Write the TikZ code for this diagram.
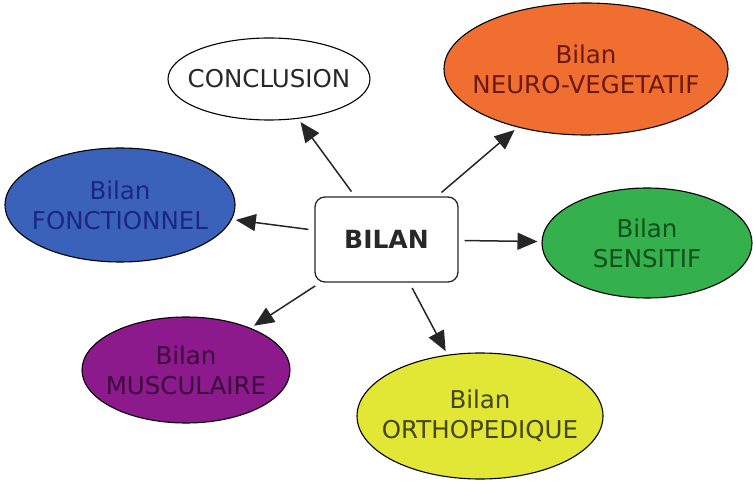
\documentclass[tikz,border=0pt]{standalone}
\usepackage{fontspec}
\setmainfont{DejaVu Sans}
\usetikzlibrary{shapes.geometric,arrows.meta}

\definecolor{blueFill}{RGB}{58,98,186}
\definecolor{blueText}{RGB}{28,38,128}
\definecolor{orangeFill}{RGB}{240,110,48}
\definecolor{orangeText}{RGB}{105,25,15}
\definecolor{greenFill}{RGB}{52,176,76}
\definecolor{greenText}{RGB}{18,78,30}
\definecolor{purpleFill}{RGB}{140,26,140}
\definecolor{purpleText}{RGB}{58,10,58}
\definecolor{yellowFill}{RGB}{226,230,52}
\definecolor{yellowText}{RGB}{68,68,20}
\definecolor{inkGrey}{RGB}{40,40,40}

\tikzset{
  bilanoval/.style={ellipse, draw=black, line width=1.1pt, inner sep=0pt},
  ovaltext/.style={align=center, inner sep=0pt, font=\fontsize{24.5}{30}\selectfont},
  centerbox/.style={draw=inkGrey, line width=1.3pt, rounded corners=10pt,
    minimum width=143pt, minimum height=85pt, fill=white,
    font=\fontsize{25}{30}\selectfont\bfseries, text=inkGrey},
  spoke/.style={-{Triangle[length=20pt,width=17pt]}, line width=1.5pt,
    draw=black!85, fill=black!85, shorten <=6pt, shorten >=4pt}
}

\begin{document}
\begin{tikzpicture}[x=1pt,y=-1pt]
  \useasboundingbox (0,0) rectangle (753,481);

  % central box
  \node[centerbox] (bilan) at (386.5,239.5) {BILAN};

  % surrounding ellipses (shape only)
  \node[bilanoval, fill=white, minimum width=202pt, minimum height=82pt]
    (concl) at (269,79) {};
  \node[bilanoval, fill=orangeFill, minimum width=284pt, minimum height=132pt]
    (neuro) at (586,69) {};
  \node[bilanoval, fill=blueFill, minimum width=230pt, minimum height=114pt]
    (fonct) at (120,205) {};
  \node[bilanoval, fill=greenFill, minimum width=210pt, minimum height=110pt]
    (sensi) at (647,243) {};
  \node[bilanoval, fill=purpleFill, minimum width=208pt, minimum height=106pt]
    (muscu) at (186,370) {};
  \node[bilanoval, fill=yellowFill, minimum width=246pt, minimum height=126pt]
    (ortho) at (480,416) {};

  % their labels
  \node[ovaltext, text=inkGrey] (conclT) at (concl) {CONCLUSION};
  \node[ovaltext, text=orangeText] (neuroT) at (neuro) {Bilan\\NEURO-VEGETATIF};
  \node[ovaltext, text=blueText] (fonctT) at (fonct) {Bilan\\FONCTIONNEL};
  \node[ovaltext, text=greenText] (sensiT) at (sensi) {Bilan\\SENSITIF};
  \node[ovaltext, text=purpleText] (muscuT) at (muscu) {Bilan\\MUSCULAIRE};
  \node[ovaltext, text=yellowText] (orthoT) at (ortho) {Bilan\\ORTHOPEDIQUE};

  % arrows from the centre
  \draw[spoke] (bilan) -- (concl);
  \draw[spoke] (bilan) -- (neuro);
  \draw[spoke] (bilan) -- (fonct);
  \draw[spoke] (bilan) -- (sensi);
  \draw[spoke] (bilan) -- (muscu);
  \draw[spoke] (bilan) -- (ortho);
\end{tikzpicture}
\end{document}
